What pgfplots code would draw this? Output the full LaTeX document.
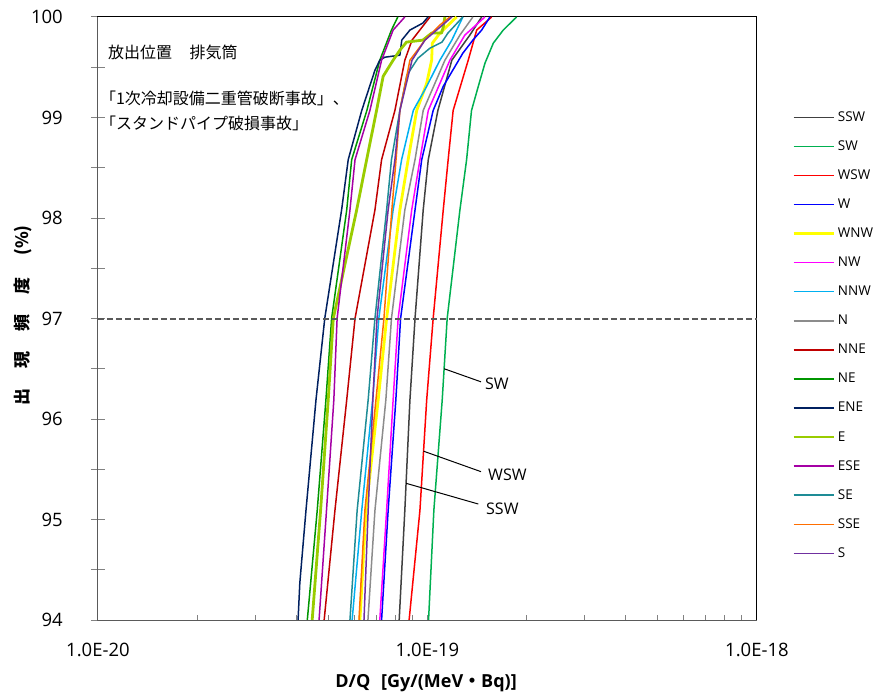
\documentclass[border=0pt]{standalone}
\usepackage{fontspec}
\setmainfont{Open Sans}
\newfontfamily\jp{Noto Sans CJK JP}
\usepackage{pgfplots}
\pgfplotsset{compat=1.18}

\definecolor{cSSW}{RGB}{64,64,64}
\definecolor{cSW}{RGB}{0,176,80}
\definecolor{cWSW}{RGB}{255,0,0}
\definecolor{cW}{RGB}{0,0,255}
\definecolor{cWNW}{RGB}{255,255,0}
\definecolor{cNW}{RGB}{255,0,255}
\definecolor{cNNW}{RGB}{0,176,240}
\definecolor{cN}{RGB}{140,140,140}
\definecolor{cNNE}{RGB}{192,0,0}
\definecolor{cNE}{RGB}{0,150,0}
\definecolor{cENE}{RGB}{0,32,96}
\definecolor{cE}{RGB}{153,204,0}
\definecolor{cESE}{RGB}{165,0,165}
\definecolor{cSE}{RGB}{30,140,150}
\definecolor{cSSE}{RGB}{255,110,0}
\definecolor{cS}{RGB}{112,48,160}
\definecolor{spine}{RGB}{90,90,90}
\definecolor{tickc}{RGB}{130,130,130}

\tikzset{thin curve/.style={line width=1.5pt, line join=round},
         thick curve/.style={line width=2.8pt, line join=round}}

\begin{document}
\begin{tikzpicture}[x=1pt,y=1pt]
\useasboundingbox (0,0) rectangle (877,699);
\begin{axis}[
  at={(98pt,79pt)}, anchor=south west,
  width=659pt, height=603pt, scale only axis,
  xmode=log, xmin=1e-20, xmax=1e-18,
  ymin=94, ymax=100,
  clip=false,
  no markers,
  axis line style={black, line width=1pt},
  tick pos=left,
  xtick={1e-20,1e-19,1e-18},
  xticklabels={1.0E-20,1.0E-19,1.0E-18},
  ytick={94,95,96,97,98,99,100},
  minor ytick={94.5,95.5,96.5,97.5,98.5,99.5},
  major tick length=14pt, minor tick length=14pt,
  tick align=outside,
  y tick style={xshift=7pt},
  x tick style={/pgfplots/major tick length=5pt, /pgfplots/minor tick length=5pt, yshift=5pt},
  every tick/.style={tickc, line width=1pt},
  /pgf/number format/assume math mode=true,
  yticklabel style={font=\fontsize{18.5}{20}\selectfont, anchor=east, inner sep=0pt, xshift=-21pt},
  xticklabel style={font=\fontsize{18.5}{20}\selectfont, anchor=north, inner sep=0pt, yshift=-9pt},
  legend style={at={(1.0531,0.844)}, anchor=north west, draw=none, fill=none,
    inner sep=0pt, row sep=17.07pt,
    font=\fontsize{13.5}{15}\selectfont,
    nodes={text height=10pt, text depth=2pt, inner ysep=0pt, inner xsep=3pt}},
  legend cell align=left,
  legend image code/.code={\draw[#1] (0pt,0pt) -- (40pt,0pt);},
]
\addplot[cSSW, thin curve] coordinates {(8.21e-20,94) (8.54e-20,95.09) (8.85e-20,96.19) (9.17e-20,97) (9.71e-20,98.08) (10.06e-20,98.58) (10.76e-20,99.07) (11.86e-20,99.57) (13.45e-20,99.82) (14.61e-20,100)};
\addplot[cSW, thin curve] coordinates {(10.08e-20,94) (10.46e-20,95.09) (11.09e-20,96.19) (11.48e-20,97) (12.55e-20,98.08) (13.15e-20,98.58) (13.61e-20,99.07) (14.27e-20,99.31) (14.95e-20,99.54) (15.85e-20,99.74) (16.99e-20,99.87) (18.65e-20,100)};
\addplot[cWSW, thin curve] coordinates {(8.80e-20,94) (9.49e-20,95.09) (9.95e-20,96.19) (10.41e-20,97) (11.17e-20,98.08) (11.56e-20,98.58) (11.97e-20,99.07) (13.30e-20,99.57) (14.11e-20,99.87) (15.67e-20,100)};
\addplot[cW, thin curve] coordinates {(7.26e-20,94) (7.60e-20,95.09) (8.02e-20,96.19) (8.29e-20,97) (9.17e-20,98.08) (9.61e-20,98.58) (10.41e-20,99.07) (11.17e-20,99.31) (12.81e-20,99.64) (13.74e-20,99.77) (14.61e-20,99.87) (15.48e-20,100)};
\addplot[cWNW, thick curve] coordinates {(6.24e-20,94) (6.51e-20,95.09) (7.09e-20,96.19) (7.52e-20,97) (8.25e-20,98.08) (8.74e-20,98.58) (9.28e-20,99.07) (9.95e-20,99.34) (10.30e-20,99.57) (10.35e-20,99.74) (10.91e-20,99.84) (12.26e-20,100)};
\addplot[cNW, thin curve] coordinates {(7.17e-20,94) (7.52e-20,95.09) (7.87e-20,96.19) (8.15e-20,97) (8.96e-20,98.08) (9.49e-20,98.58) (10.06e-20,99.07) (11.70e-20,99.57) (12.99e-20,99.82) (14.95e-20,100)};
\addplot[cNNW, thin curve] coordinates {(5.91e-20,94) (6.32e-20,95.09) (6.82e-20,96.19) (7.12e-20,97) (7.87e-20,98.08) (8.35e-20,98.58) (9.06e-20,99.07) (9.95e-20,99.31) (10.91e-20,99.57) (11.86e-20,99.77) (12.81e-20,100)};
\addplot[cN, thin curve] coordinates {(6.60e-20,94) (6.93e-20,95.09) (7.48e-20,96.19) (7.78e-20,97) (8.54e-20,98.08) (9.17e-20,98.58) (9.71e-20,99.07) (11.30e-20,99.57) (12.55e-20,99.82) (13.74e-20,100)};
\addplot[cNNE, thin curve] coordinates {(4.86e-20,94) (5.24e-20,95.09) (5.69e-20,96.19) (6.03e-20,97) (6.93e-20,98.08) (7.26e-20,98.58) (7.97e-20,99.07) (8.54e-20,99.57) (8.98e-20,99.77) (10.18e-20,100)};
\addplot[cNE, thin curve] coordinates {(4.32e-20,94) (4.63e-20,95.09) (4.92e-20,96.19) (5.12e-20,97) (5.69e-20,98.08) (5.89e-20,98.58) (6.55e-20,99.07) (7.17e-20,99.57) (7.78e-20,99.87) (8.13e-20,100)};
\addplot[cENE, thin curve] coordinates {(4.05e-20,94) (4.10e-20,94.37) (4.28e-20,95.09) (4.59e-20,96.19) (4.88e-20,97.0) (5.49e-20,98.08) (5.75e-20,98.58) (6.32e-20,99.07) (6.93e-20,99.47) (7.17e-20,99.57) (7.43e-20,99.60) (8.25e-20,99.62) (8.36e-20,99.77) (8.85e-20,99.87) (9.69e-20,99.94) (10.04e-20,100)};
\addplot[cE, thick curve] coordinates {(4.47e-20,94) (4.74e-20,95.09) (5.00e-20,96.19) (5.18e-20,97) (6.10e-20,98.08) (6.54e-20,98.58) (7.01e-20,99.07) (7.34e-20,99.41) (7.87e-20,99.57) (8.25e-20,99.67) (8.64e-20,99.75) (9.69e-20,99.77) (10.30e-20,99.84) (11.04e-20,99.84) (11.17e-20,99.90) (11.30e-20,100)};
\addplot[cESE, thin curve] coordinates {(4.69e-20,94) (4.94e-20,95.09) (5.20e-20,96.19) (5.32e-20,97) (5.82e-20,98.08) (6.03e-20,98.58) (6.69e-20,99.07) (7.26e-20,99.57) (7.87e-20,99.87) (8.54e-20,100)};
\addplot[cSE, thin curve] coordinates {(5.82e-20,94) (6.12e-20,95.09) (6.61e-20,96.19) (6.93e-20,97) (7.52e-20,98.08) (7.78e-20,98.58) (8.25e-20,99.07) (8.66e-20,99.42) (9.36e-20,99.59) (10.18e-20,99.69) (11.07e-20,99.75) (11.54e-20,99.84) (12.81e-20,100)};
\addplot[cSSE, thin curve] coordinates {(6.20e-20,94) (6.46e-20,95.09) (6.98e-20,96.19) (7.38e-20,97) (7.80e-20,98.08) (8.03e-20,98.58) (8.25e-20,99.07) (8.85e-20,99.57) (9.83e-20,99.77) (10.91e-20,99.92) (11.70e-20,100)};
\addplot[cS, thin curve] coordinates {(6.42e-20,94) (6.61e-20,95.09) (6.83e-20,96.19) (7.03e-20,97) (7.60e-20,98.08) (7.97e-20,98.58) (8.25e-20,99.07) (8.98e-20,99.57) (9.83e-20,99.77) (11.86e-20,100)};
\legend{SSW,SW,WSW,W,WNW,NW,NNW,N,NNE,NE,ENE,E,ESE,SE,SSE,S}

% 97 % reference level
\addplot[forget plot, color=spine, line width=2pt, dash pattern=on 6pt off 3pt] coordinates {(1e-20,97) (1e-18,97)};

% left and bottom axis lines in grey
\draw[spine, line width=1pt] (rel axis cs:0,1) -- (rel axis cs:0,0) -- (rel axis cs:1,0);

% leader lines with direction names
\draw[black, line width=1pt] (axis cs:11.24e-20,96.50) -- (axis cs:14.54e-20,96.37);
\node[anchor=west, inner sep=0pt, font=\fontsize{16}{18}\selectfont] at (axis cs:14.95e-20,96.35) {SW};
\draw[black, line width=1pt] (axis cs:9.73e-20,95.68) -- (axis cs:14.54e-20,95.476);
\node[anchor=west, inner sep=0pt, font=\fontsize{16}{18}\selectfont] at (axis cs:15.27e-20,95.443) {WSW};
\draw[black, line width=1pt] (axis cs:8.62e-20,95.36) -- (axis cs:14.27e-20,95.154);
\node[anchor=west, inner sep=0pt, font=\fontsize{16}{18}\selectfont] at (axis cs:15.06e-20,95.104) {SSW};

% case description
\node[anchor=west, inner sep=0pt, font=\jp\fontsize{16}{18}\selectfont] at (rel axis cs:0.0152,0.942) {放出位置\hspace{1.1em}排気筒};
\node[anchor=west, inner sep=0pt, font=\jp\fontsize{16}{18}\selectfont] at (rel axis cs:0.003,0.8657) {「1次冷却設備二重管破断事故」、};
\node[anchor=west, inner sep=0pt, font=\jp\fontsize{16}{18}\selectfont] at (rel axis cs:0.003,0.824) {「スタンドパイプ破損事故」};
\end{axis}

% axis titles
\node[rotate=90, inner sep=0pt, font=\jp\bfseries\fontsize{17}{20}\selectfont] at (22.5,383.5) {出\hspace{20pt}現\hspace{20pt}頻\hspace{20pt}度\hspace{22pt}(\%)};
\node[inner sep=0pt, font=\bfseries\fontsize{18}{20}\selectfont] at (426,16) {D/Q\hspace{0.6em}[Gy/(MeV{\jp ・}Bq)]};
\end{tikzpicture}
\end{document}
